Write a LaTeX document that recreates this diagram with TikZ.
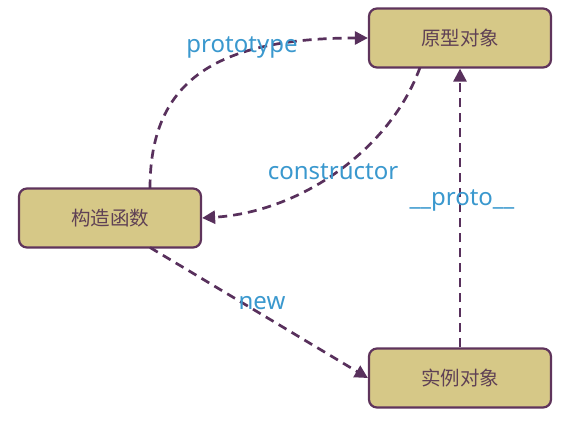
\documentclass[tikz,border=0pt]{standalone}
\usepackage{fontspec}
\setmainfont{Noto Sans}
\newfontfamily\cjk{Noto Sans CJK SC}
\usetikzlibrary{arrows.meta}
\definecolor{boxfill}{RGB}{214,200,135}
\definecolor{boxdraw}{RGB}{95,52,92}
\definecolor{boxtext}{RGB}{95,65,85}
\definecolor{arr}{RGB}{88,48,92}
\definecolor{lbl}{RGB}{58,152,206}
\begin{document}
\begin{tikzpicture}[x=1pt,y=-1pt,
  objbox/.style={draw=boxdraw,fill=boxfill,line width=2.2pt,rounded corners=8pt,
    minimum width=182pt,minimum height=59pt,inner sep=0pt,
    font=\cjk\fontsize{19.5}{22}\selectfont,text=boxtext},
  link/.style={draw=arr,line width=2.7pt,dash pattern=on 9pt off 6pt,
    -{Triangle[length=13pt,width=13pt]}},
  lab/.style={font=\fontsize{24}{28}\selectfont,text=lbl,inner sep=1pt}]
\useasboundingbox (0,0) rectangle (564,424);
\node[objbox] (proto) at (460,38) {原型对象};
\node[objbox] (ctor) at (110,218) {构造函数};
\node[objbox] (inst) at (460,378) {实例对象};
\coordinate (ctorTop) at (150,188.5);
\coordinate (ctorBot) at (150,247.5);
\coordinate (protoBotL) at (420,67.5);
\draw[link] (ctorTop) .. controls (150,85) and (210,38) .. (proto.west);
\draw[link] (protoBotL) .. controls (390,150) and (300,212) .. (ctor.east);
\draw[link] (ctorBot) -- (inst.west);
\draw[link] (inst.north) -- (proto.south);
\node[lab] (lproto) at (242,47) {prototype};
\node[lab] (lctor) at (333,172) {constructor};
\node[lab] (lpp) at (462,200) {\_\_proto\_\_};
\node[lab] (lnew) at (262,303) {new};
\end{tikzpicture}
\end{document}
